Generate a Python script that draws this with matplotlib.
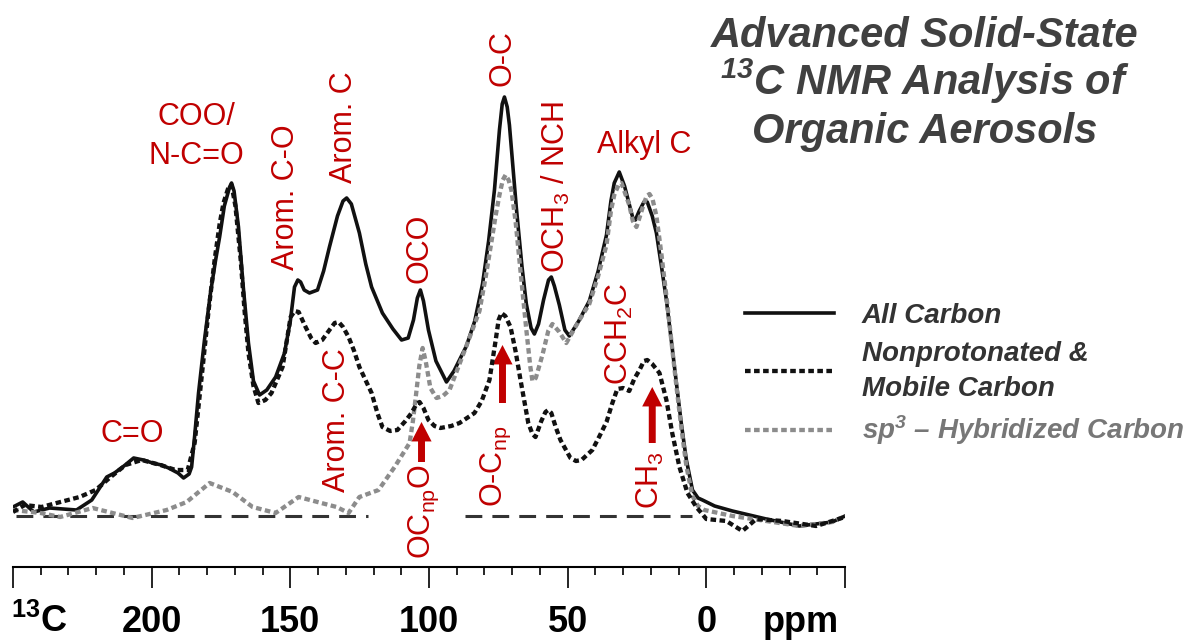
import matplotlib
matplotlib.use('Agg')
import matplotlib.pyplot as plt
from matplotlib.ticker import MultipleLocator

# chemical shift (ppm) and intensity (a.u.)
all_ppm = [250, 246.5, 242.5, 236.8, 227.1, 221.6, 216.2, 213.4, 210, 206.5,
           203, 199.7, 196.5, 193.9, 190.5, 188.5, 186.5, 185.6, 184.5, 183.1,
           181, 178.8, 177, 175.5, 173.8, 171.9, 171.2, 170.3, 168.7, 167,
           165.1, 163.3, 161.1, 158.5, 155.3, 152.1, 150, 148.5, 147.3, 146.3,
           145, 143.1, 140.2, 138, 135.9, 133, 131, 129.7, 128, 125.1,
           122.8, 120.7, 116.8, 113, 109.9, 107.5, 105.6, 104.2, 103.1, 102,
           100.2, 97.5, 93.7, 91, 86.5, 83.5, 80.7, 78.5, 76.4, 74.6,
           73.6, 72.8, 71.8, 71.0, 68.5, 66.5, 64.9, 63.2, 62.0, 60.5,
           58.7, 56.9, 55.9, 54.8, 53.0, 51, 49.4, 46, 42.2, 39,
           36.0, 34.4, 33.2, 31.4, 29.5, 28.1, 26.5, 25.6, 24.2, 22.5,
           21.3, 19.5, 18.0, 16.2, 14.4, 12.6, 10.8, 9, 7.2, 5.0,
           3, 1.4, -3, -9.4, -21.6, -33.5, -45.4, -50]
all_int = [9, 14, 4, 8, 6, 16, 39, 43, 50, 58,
           56, 53, 51, 48, 43, 38, 42, 49, 80, 123,
           175, 223, 255, 279, 310, 329, 333, 325, 289, 230,
           173, 135, 121, 126, 139, 163, 195, 229, 236, 234,
           226, 223, 226, 245, 269, 300, 315, 318, 312, 283,
           252, 229, 203, 187, 176, 178, 196, 218, 226, 215,
           186, 155, 134, 145, 170, 195, 232, 275, 326, 386,
           412, 419, 409, 391, 308, 250, 212, 188, 182, 192,
           216, 236, 239, 230, 211, 186, 180, 195, 215, 245,
           281, 315, 333, 344, 330, 315, 298, 296, 305, 314,
           314, 300, 283, 250, 216, 175, 133, 92, 56, 26,
           18, 16, 10, 5, -3, -10, -6, 0]

np_ppm = [250, 245.8, 239.7, 234.3, 226.0, 220.2, 214.8, 209.4, 203.6, 196.8,
          191.4, 187.0, 184.5, 181.6, 179.5, 177.3, 175.5, 174.1, 172.5, 171.2,
          169.8, 167.9, 166.5, 165.1, 163.3, 161.5, 159, 156.8, 152.8, 149.9,
          148.4, 147.0, 144.5, 142.5, 140.9, 138.5, 135.9, 134, 132.6, 131,
          129.0, 127, 125.1, 120.7, 118.5, 116.8, 114, 111.4, 108.5, 106.3,
          104.5, 103.4, 102, 100.2, 98, 95.9, 92, 89.0, 83.6, 81,
          78.2, 76, 74.9, 73.9, 72.5, 70.6, 68.8, 67.0, 64.2, 62.7,
          61.6, 59.5, 58.0, 57, 55.9, 54.2, 52.6, 49.0, 47, 45.0,
          41.1, 38.5, 36.0, 34, 32.1, 30, 27.8, 26, 24.1, 22.5,
          21.3, 19.5, 16.9, 14.4, 12.3, 9.7, 6.8, 3.6, 0.0, -7.2,
          -13.0, -18.0, -27.4, -39.6, -50]
np_int = [4, 11, 9, 13, 19, 26, 39, 51, 56, 51,
          46, 46, 73, 149, 205, 256, 292, 313, 327, 331,
          310, 256, 205, 163, 130, 113, 116, 123, 149, 199,
          205, 204, 189, 178, 173, 176, 186, 193, 194, 189,
          179, 165, 149, 123, 102, 89, 85, 86, 95, 103,
          112, 114, 108, 96, 90, 88, 90, 93, 103, 115,
          136, 175, 196, 203, 200, 189, 165, 136, 93, 82,
          79, 95, 104, 106, 103, 88, 76, 58, 55, 56,
          66, 80, 94, 112, 127, 128, 125, 137, 146, 155,
          156, 152, 143, 116, 83, 49, 23, 9, -3, -5,
          -15, -3, -5, -10, -1]

sp3_ppm = [250, 240, 233, 221.3, 206.9, 194.6, 187.4, 179.1, 170.8, 163.6,
           155.3, 147.0, 140.2, 133.3, 129.0, 125.1, 118.2, 112.4, 107.0, 105.8,
           104.9, 103.5, 102.3, 101.2, 99.5, 97.3, 95, 92.6, 87.9, 84.5,
           81.8, 79.5, 77.5, 76, 74.6, 73.4, 72.4, 71.3, 70.3, 68.8,
           67.4, 64.9, 63.5, 62.7, 61.5, 59.1, 57, 55.5, 53.0, 50.5,
           46, 42.2, 39, 36.0, 34.4, 33.2, 31.5, 30.6, 29.2, 27.8,
           26.5, 25.2, 23.9, 22.7, 21.5, 20.5, 19.4, 18.0, 16.2, 14.4,
           12.6, 10.8, 9, 7.2, 5.0, 3, 0.7, -9.4, -21.6, -33.5,
           -45.4, -50]
sp3_int = [6, 3, -1, 8, -2, 6, 14, 33, 24, 9,
           3, 19, 14, 9, 3, 19, 26, 49, 73, 95,
           116, 150, 168, 155, 128, 118, 120, 126, 160, 185,
           205, 240, 274, 300, 321, 336, 341, 336, 326, 295,
           256, 186, 150, 135, 138, 161, 185, 192, 184, 173,
           195, 212, 240, 271, 305, 321, 332, 333, 322, 311,
           295, 289, 300, 311, 320, 322, 317, 300, 262, 220,
           175, 130, 88, 50, 20, 10, 6, 0, -5, -10,
           -6, 0]

baseline_segments = [(249, 122), (87, 5)]

tick_vals = [250, 200, 150, 100, 50, 0, -50]
tick_labels = ['', '200', '150', '100', '50', '0', '']

series_labels = ['All Carbon', 'Nonprotonated &\nMobile Carbon',
                 r'sp$^{\mathsf{3}}$ – Hybridized Carbon']

# peak assignments: (text, ppm, intensity, rotation, vertical alignment)
peak_labels = [
    ('C=O', 206.9, 74, 0, 'baseline'),
    ('COO/', 183.8, 391, 0, 'baseline'),
    ('N-C=O', 183.8, 352, 0, 'baseline'),
    ('Arom. C-O', 151.4, 319, 90, 'center'),
    ('Arom. C', 130.5, 389, 90, 'center'),
    ('OCO', 103.4, 268, 90, 'center'),
    ('O-C', 73.5, 458, 90, 'center'),
    ('OCH$_3$ / NCH', 54.1, 329, 90, 'center'),
    ('Alkyl C', 22.3, 363, 0, 'baseline'),
    ('CCH$_2$C', 31.4, 182, 90, 'center'),
    ('Arom. C-C', 133.0, 96, 90, 'center'),
    ('OC$_{np}$O', 102.0, 4, 90, 'center'),
    ('O-C$_{np}$', 75.7, 50, 90, 'center'),
    ('CH$_3$', 20.2, 36, 90, 'center'),
]
# arrows: ppm, tail, head
arrow_ppm = [102.7, 73.5, 19.5]
arrow_tail = [54, 113, 73]
arrow_head = [94, 171, 129]

red = '#C00000'

plt.rcParams['font.family'] = ['Liberation Sans', 'DejaVu Sans']
plt.rcParams['mathtext.fontset'] = 'custom'
plt.rcParams['mathtext.rm'] = 'Liberation Sans'
plt.rcParams['mathtext.sf'] = 'Liberation Sans:bold:italic'
plt.rcParams['mathtext.bf'] = 'Liberation Sans:bold'
plt.rcParams['mathtext.default'] = 'regular'

fig = plt.figure(figsize=(11.9, 6.42), dpi=100)
ax = fig.add_axes([13/1190, 75/642, 832/1190, 567/642])

dots = (0, (1.3, 0.8))
h_all, = ax.plot(all_ppm, all_int, color='#111111', lw=2.6, solid_joinstyle='round', zorder=3)
h_sp3, = ax.plot(sp3_ppm, sp3_int, color='#8c8c8c', lw=3.1, ls=dots, zorder=4)
h_np, = ax.plot(np_ppm, np_int, color='#111111', lw=3.1, ls=dots, zorder=5)
for seg in baseline_segments:
    ax.plot(seg, [0, 0], color='#333333', lw=2.2, ls=(0, (5.5, 3.3)), zorder=2)

ax.set_xlim(250, -50)
ax.set_ylim(-51, 516)

for s in ['left', 'top', 'right']:
    ax.spines[s].set_visible(False)
ax.spines['bottom'].set_linewidth(1.5)
ax.set_yticks([])
ax.set_xticks(tick_vals, labels=tick_labels, fontweight='bold')
ax.xaxis.set_minor_locator(MultipleLocator(10))
ax.tick_params(axis='x', which='major', length=15, width=1.2, pad=12, labelsize=26)
ax.tick_params(axis='x', which='minor', length=6, width=1.2)

ax.text(240.4, -0.1146, r'$^{\mathbf{13}}$C', transform=ax.get_xaxis_transform(),
        ha='center', va='baseline', fontsize=26, fontweight='bold')
ax.text(-34.2, -0.1146, 'ppm', transform=ax.get_xaxis_transform(), ha='center',
        va='baseline', fontsize=26, fontweight='bold')

for txt, x, y, rot, va in peak_labels:
    ax.text(x, y, txt, color=red, fontsize=22, rotation=rot, ha='center', va=va)

for x, t, h in zip(arrow_ppm, arrow_tail, arrow_head):
    ax.annotate('', xy=(x, h), xytext=(x, t),
                arrowprops=dict(facecolor=red, edgecolor='none', width=5,
                                headwidth=14.5, headlength=14, shrink=0))

leg = ax.legend([h_all, h_np, h_sp3], series_labels, loc='center left',
                bbox_to_anchor=(745/1190, 1 - 375/642), bbox_transform=fig.transFigure,
                frameon=False, prop=dict(weight='bold', style='italic', size=20),
                handlelength=3.2, handletextpad=1.0, labelspacing=0.43,
                borderpad=0, borderaxespad=0)
for t, c in zip(leg.get_texts(), ['#333333', '#333333', '#777777']):
    t.set_color(c)
leg.get_texts()[1].set_linespacing(1.45)

title_lines = ['Advanced Solid-State', r'$^{\mathsf{13}}$C NMR Analysis of', 'Organic Aerosols']
for i, line in enumerate(title_lines):
    fig.text(925/1190, 1 - (47 + 48*i)/642, line, ha='center', va='baseline',
             fontsize=30, fontweight='bold', style='italic', color='#404040')

fig.savefig('out.png', dpi=100)
